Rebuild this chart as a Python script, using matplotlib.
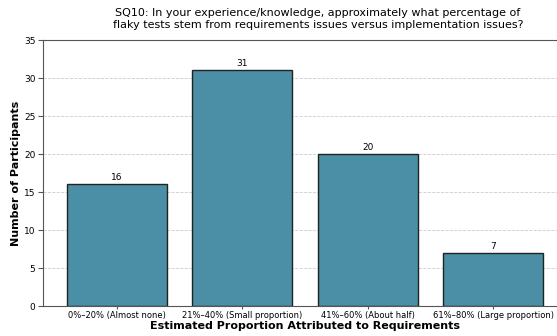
import matplotlib.pyplot as plt

categories = ["0%–20% (Almost none)", "21%–40% (Small proportion)",
              "41%–60% (About half)", "61%–80% (Large proportion)"]
counts = [16, 31, 20, 7]

fig = plt.figure(figsize=(5.57, 3.36), dpi=100)
ax = fig.add_axes([43/557, 30/336, (567-43)/557, 266/336])

x = range(len(categories))
bars = ax.bar(x, counts, width=0.8, color="#4a8fa5", edgecolor="#222222", linewidth=1)
for b, v in zip(bars, counts):
    ax.text(b.get_x() + b.get_width()/2, v + 0.3, str(v), ha="center", va="bottom", fontsize=6.5)

ax.set_xticks(list(x))
ax.set_xticklabels(categories, fontsize=6)
ax.tick_params(axis="x", length=2, pad=1.5, color="#555555")
ax.tick_params(axis="y", labelsize=6.5, pad=2, color="#555555")
for s in ax.spines.values():
    s.set_color("#555555")
ax.set_ylim(0, 35)
ax.set_xlim(-0.59, 3.59)
ax.yaxis.grid(True, linestyle="--", color="#cccccc", linewidth=0.6)
ax.set_axisbelow(True)
ax.set_ylabel("Number of Participants", fontsize=8, fontweight="bold", labelpad=2)
ax.set_xlabel("Estimated Proportion Attributed to Requirements", fontsize=8, fontweight="bold", labelpad=1)
ax.set_title("SQ10: In your experience/knowledge, approximately what percentage of\n"
             "flaky tests stem from requirements issues versus implementation issues?",
             fontsize=8, x=(318-43)/(567-43), pad=9)

fig.savefig("out.png", dpi=100)
